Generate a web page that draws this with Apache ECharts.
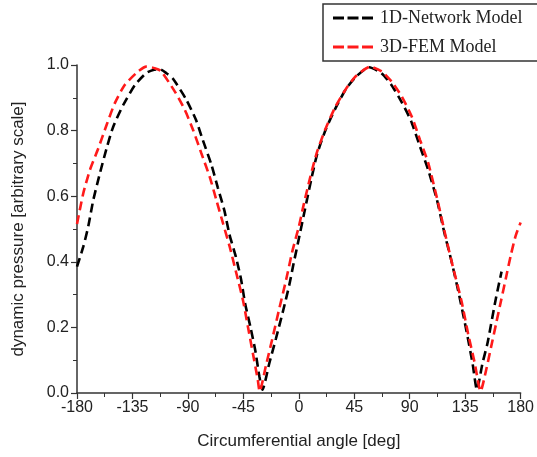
<!DOCTYPE html>
<html>
<head>
<meta charset="utf-8">
<script src="https://cdn.jsdelivr.net/npm/echarts@6/dist/echarts.min.js"></script>
<style>
html,body{margin:0;padding:0;background:#fff;}
#chart{width:537px;height:457px;}
</style>
</head>
<body>
<div id="chart"></div>
<script>
var xTicks = [-180, -135, -90, -45, 0, 45, 90, 135, 180];
var yTicks = [0.0, 0.2, 0.4, 0.6, 0.8, 1.0];

var blackName = '1D-Network Model';
var blackAngles = [-180, -174.9, -170.9, -166.8, -161.4, -156, -150.6, -142.5, -133, -124, -118.2, -112.8, -107.4, -102.1, -91.4, -83.4, -77.9, -71.1, -65.8, -60.4, -56.4, -51, -46.9, -43.5, -39.2, -35.4, -32, -29.5,
  -24, -18.5, -12.6, -7.7, -4.5, 0, 5, 10, 15, 22, 30, 38, 46, 57, 67, 75, 83, 91, 98, 105, 112, 118, 124, 130, 136, 141, 144.5, 149, 153, 156, 160, 164.5];
var blackValues = [0.385, 0.446, 0.507, 0.588, 0.67, 0.746, 0.812, 0.878, 0.939, 0.975, 0.985, 0.987, 0.975, 0.958, 0.895, 0.832, 0.771, 0.698, 0.627, 0.556, 0.485, 0.414, 0.347, 0.271, 0.2, 0.131, 0.05, 0.01,
  0.09, 0.167, 0.253, 0.33, 0.39, 0.47, 0.56, 0.65, 0.73, 0.805, 0.87, 0.925, 0.963, 0.993, 0.975, 0.94, 0.89, 0.83, 0.755, 0.68, 0.59, 0.49, 0.40, 0.30, 0.19, 0.09, 0.01, 0.09, 0.15, 0.21, 0.29, 0.37];

var redName = '3D-FEM Model';
var redAngles = [-180, -174.9, -169.5, -162.7, -156, -149.4, -141.3, -130.5, -123.8, -117, -112, -100.6, -92.5, -85.8, -79.1, -72.3, -66.9, -61.5, -56.1, -50.7, -45.4, -41.3, -37.3, -33.3, -31.8,
  -26.6, -21.2, -15.7, -10.3, -5.4, 0, 4, 9.4, 14.8, 21.6, 29.7, 37.7, 45.8, 58, 67.4, 75.4, 83.5, 91.6, 98.4, 105.1, 113, 119, 125, 132, 137.4, 142.8, 147.5, 152, 156, 160, 164, 168, 172, 176, 180];
var redValues = [0.515, 0.609, 0.68, 0.746, 0.817, 0.883, 0.939, 0.98, 0.995, 0.99, 0.982, 0.919, 0.863, 0.802, 0.731, 0.659, 0.588, 0.517, 0.446, 0.365, 0.284, 0.202, 0.121, 0.04, 0.005,
  0.085, 0.17, 0.26, 0.345, 0.43, 0.507, 0.575, 0.66, 0.735, 0.805, 0.873, 0.924, 0.964, 0.995, 0.98, 0.949, 0.904, 0.843, 0.771, 0.70, 0.58, 0.48, 0.385, 0.28, 0.18, 0.09, 0.005, 0.07, 0.14, 0.21, 0.28, 0.35, 0.42, 0.48, 0.52];

function pairs(xs, ys) { return xs.map(function (x, i) { return [x, ys[i]]; }); }

var dashIcon = 'path://M0,0h11v3h-11z M14.5,0h11v3h-11z M29,0h11v3h-11z';

var chart = echarts.init(document.getElementById('chart'), null, {renderer: 'canvas'});
var sansFont = 'Liberation Sans, Arial, sans-serif';
chart.setOption({
  backgroundColor: '#ffffff',
  animation: false,
  grid: {left: 77, right: 14, top: 65, bottom: 64, containLabel: false},
  legend: {
    orient: 'vertical',
    left: 323, top: 4,
    padding: [5, 18, 5, 10],
    itemGap: 11,
    itemWidth: 40, itemHeight: 3,
    borderColor: '#333', borderWidth: 1.5,
    textStyle: {fontFamily: 'Liberation Serif, Times New Roman, serif', fontSize: 18, color: '#222', lineHeight: 18, padding: [0, 0, 0, 2]},
    data: [
      {name: blackName, icon: dashIcon, itemStyle: {color: '#000000'}},
      {name: redName, icon: dashIcon, itemStyle: {color: '#ff1a1a'}}
    ]
  },
  xAxis: {
    type: 'value', min: -180, max: 180, interval: 45,
    name: 'Circumferential angle [deg]', nameLocation: 'middle', nameGap: 40,
    nameTextStyle: {fontFamily: sansFont, fontSize: 17, color: '#222'},
    axisLine: {onZero: false, lineStyle: {color: '#333', width: 1.5}},
    axisTick: {inside: false, length: 6, lineStyle: {color: '#333', width: 1.2}},
    minorTick: {show: true, splitNumber: 2, length: 4, lineStyle: {color: '#333', width: 1}},
    axisLabel: {fontFamily: sansFont, fontSize: 16, color: '#222', margin: 7,
      formatter: function (v) { return xTicks.indexOf(v) >= 0 ? String(v) : ''; }},
    splitLine: {show: false}
  },
  yAxis: {
    type: 'value', min: 0, max: 1, interval: 0.2,
    name: 'dynamic pressure [arbitrary scale]', nameLocation: 'middle', nameGap: 50,
    nameTextStyle: {fontFamily: sansFont, fontSize: 17, color: '#222'},
    axisLine: {show: true, onZero: false, lineStyle: {color: '#333', width: 1.5}},
    axisTick: {show: true, inside: false, length: 6, lineStyle: {color: '#333', width: 1.2}},
    minorTick: {show: true, splitNumber: 2, length: 4, lineStyle: {color: '#333', width: 1}},
    axisLabel: {fontFamily: sansFont, fontSize: 16, color: '#222', margin: 8,
      formatter: function (v) { return v.toFixed(1); }},
    splitLine: {show: false}
  },
  series: [
    {
      name: blackName, type: 'line', symbol: 'none', smooth: 0.2,
      data: pairs(blackAngles, blackValues),
      lineStyle: {color: '#000000', width: 2.6, type: [9, 5]},
      itemStyle: {color: '#000000'},
      z: 2
    },
    {
      name: redName, type: 'line', symbol: 'none', smooth: 0.2,
      data: pairs(redAngles, redValues),
      lineStyle: {color: '#ff1a1a', width: 2.6, type: [9, 5]},
      itemStyle: {color: '#ff1a1a'},
      z: 3
    }
  ]
});
</script>
</body>
</html>
